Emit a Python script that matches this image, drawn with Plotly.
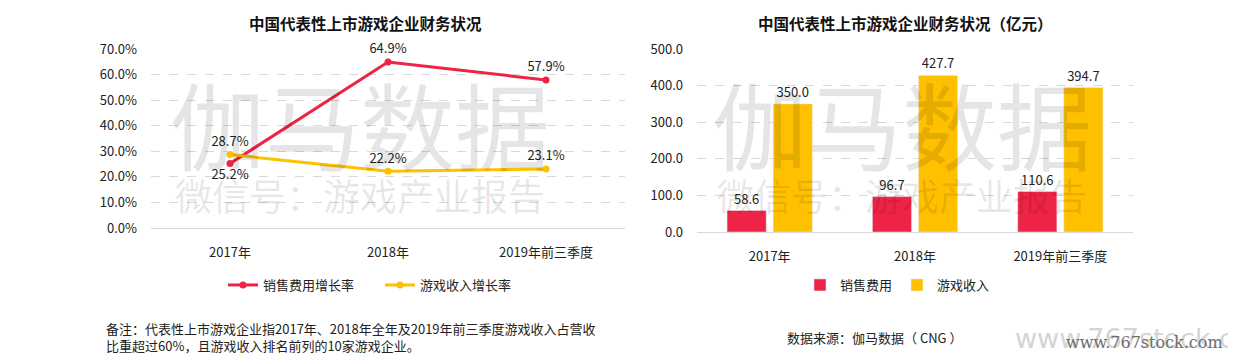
import plotly.graph_objects as go

categories = ["2017年", "2018年", "2019年前三季度"]
sales_growth = [25.2, 64.9, 57.9]
game_growth = [28.7, 22.2, 23.1]
sales_cost = [58.6, 96.7, 110.6]
game_revenue = [350.0, 427.7, 394.7]

RED = "#EE2346"
YEL = "#FFC000"
FONT = "Noto Sans CJK SC, sans-serif"
OFF = 8  # page body margin
W, H = 1236 - OFF, 358 - OFF

def px(x):
    return (x - OFF) / W

def py(y):
    return 1 - (y - OFF) / H

fig = go.Figure()

fig.add_trace(go.Scatter(
    x=categories, y=sales_growth, name="销售费用增长率", mode="lines+markers+text",
    line=dict(color=RED, width=3), marker=dict(size=7, color=RED),
    text=[f"{v:.1f}%" for v in sales_growth],
    textposition=["bottom center", "top center", "top center"],
    textfont=dict(size=13, color="#222"),
    xaxis="x", yaxis="y", legend="legend", cliponaxis=False))
fig.add_trace(go.Scatter(
    x=categories, y=game_growth, name="游戏收入增长率", mode="lines+markers+text",
    line=dict(color=YEL, width=3), marker=dict(size=7, color=YEL),
    text=[f"{v:.1f}%" for v in game_growth],
    textposition="top center",
    textfont=dict(size=13, color="#222"),
    xaxis="x", yaxis="y", legend="legend", cliponaxis=False))

fig.add_trace(go.Bar(
    x=categories, y=sales_cost, name="销售费用", marker_color=RED,
    text=[f"{v:.1f}" for v in sales_cost], textposition="outside",
    textfont=dict(size=13, color="#222"), xaxis="x2", yaxis="y2", legend="legend2",
    cliponaxis=False))
fig.add_trace(go.Bar(
    x=categories, y=game_revenue, name="游戏收入", marker_color=YEL,
    text=[f"{v:.1f}" for v in game_revenue], textposition="outside",
    textfont=dict(size=13, color="#222"), xaxis="x2", yaxis="y2", legend="legend2",
    cliponaxis=False))

axis_font = dict(size=13, color="#222", family=FONT)
fig.update_layout(
    width=W, height=H, margin=dict(l=0, r=0, t=0, b=0, autoexpand=False),
    paper_bgcolor="white", plot_bgcolor="white",
    font=dict(family=FONT, size=13, color="#222"),
    bargap=0.366, bargroupgap=0.15,
    xaxis=dict(domain=[px(151), px(625)], anchor="y", showgrid=False,
               showline=True, linecolor="#d9d9d9", linewidth=1, range=[-0.5, 2.5],
               tickfont=axis_font, ticks="", ticklabelstandoff=12),
    yaxis=dict(domain=[py(228), py(49)], anchor="x", range=[0, 70], dtick=10,
               tickformat=".1f", ticksuffix="%", showgrid=True, gridcolor="#d9d9d9",
               griddash="dash", zeroline=False, showline=False, tickfont=axis_font,
               ticklabelstandoff=13),
    xaxis2=dict(domain=[px(697), px(1133)], anchor="y2", showgrid=False,
                showline=True, linecolor="#d9d9d9", linewidth=1,
                tickfont=axis_font, ticks="", ticklabelstandoff=12),
    yaxis2=dict(domain=[py(232), py(49)], anchor="x2", range=[0, 500], dtick=100,
                tickformat=".1f", showgrid=True, gridcolor="#d9d9d9",
                griddash="dash", zeroline=False, showline=False, tickfont=axis_font,
                ticklabelstandoff=13),
    legend=dict(orientation="h", x=px(223), xanchor="left", y=py(285), yanchor="middle",
                font=dict(size=13, color="#222"), bgcolor="rgba(0,0,0,0)",
                entrywidth=112, entrywidthmode="pixels"),
    legend2=dict(orientation="h", x=px(800), xanchor="left", y=py(285), yanchor="middle",
                 font=dict(size=13, color="#222"), bgcolor="rgba(0,0,0,0)"),
    showlegend=True,
)

ann = []
ann.append(dict(text="<b>中国代表性上市游戏企业财务状况</b>", x=px(365), y=py(23),
                font=dict(size=15.5, color="#111")))
ann.append(dict(text="<b>中国代表性上市游戏企业财务状况（亿元）</b>", x=px(905), y=py(23),
                font=dict(size=15.5, color="#111")))
# watermarks
for cx in (360, 902):
    ann.append(dict(text="伽马数据", x=px(cx), y=py(122),
                    font=dict(size=95, color="rgba(0,0,0,0.1)")))
    ann.append(dict(text="微信号：游戏产业报告", x=px(cx), y=py(195),
                    font=dict(size=37, color="rgba(0,0,0,0.1)")))
ann.append(dict(text="备注：代表性上市游戏企业指2017年、2018年全年及2019年前三季度游戏收入占营收<br>比重超过60%，且游戏收入排名前列的10家游戏企业。",
                x=px(104), y=py(337), xanchor="left", align="left",
                font=dict(size=13, color="#222")))
ann.append(dict(text="数据来源：伽马数据（ CNG ）", x=px(785), y=py(337), xanchor="left",
                font=dict(size=13, color="#222")))
ann.append(dict(text="www.767stock.com", x=px(1013), y=py(338), xanchor="left",
                font=dict(size=27, color="#d4d4d4", family="DejaVu Sans, sans-serif")))
ann.append(dict(text="www.767stock.com", x=px(1064), y=py(342), xanchor="left",
                font=dict(size=16, color="#6e6e6e", family="DejaVu Serif, serif")))
for a in ann:
    a.update(xref="paper", yref="paper", showarrow=False)
    a.setdefault("xanchor", "center")
    a.setdefault("yanchor", "middle")
fig.update_layout(annotations=ann)

fig.write_html("out.html")
